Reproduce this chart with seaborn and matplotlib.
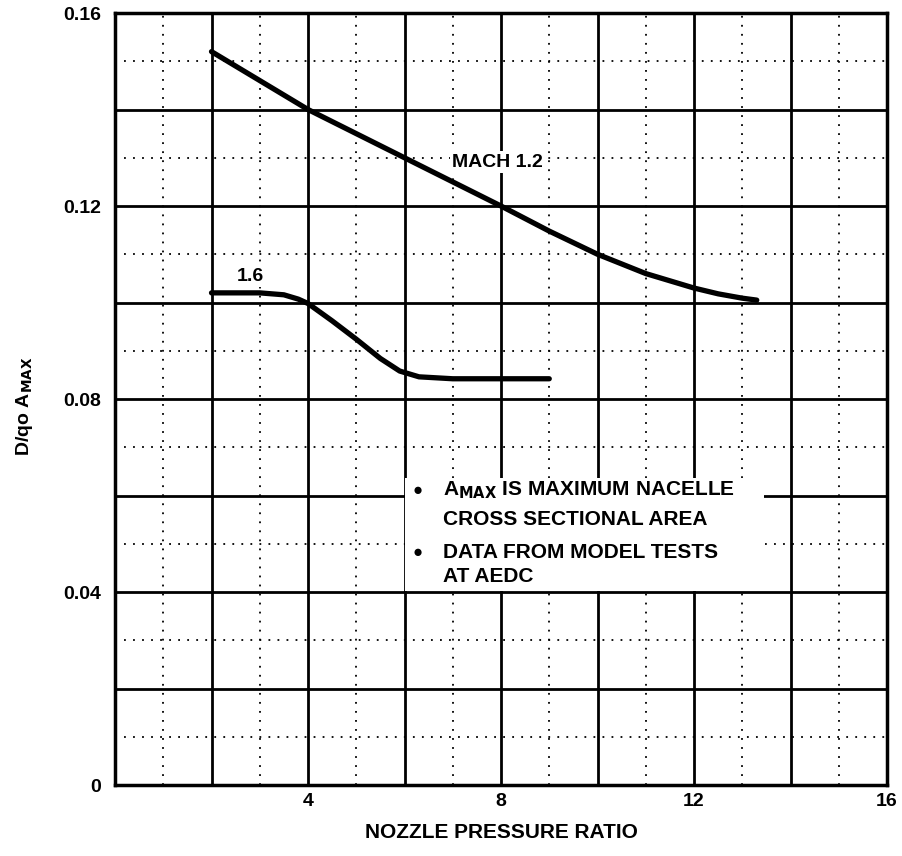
import matplotlib
matplotlib.use("Agg")
import matplotlib.pyplot as plt
import seaborn as sns
import pandas as pd
from matplotlib.patches import Rectangle

# Data
mach12_npr = [2, 4, 6, 8, 9, 10, 11, 12, 12.5, 13, 13.3]
mach12_drag = [0.152, 0.140, 0.130, 0.120, 0.1148, 0.110, 0.1060, 0.1030, 0.1018, 0.1009, 0.1005]
mach16_npr = [2, 3, 3.5, 3.8, 4, 4.5, 5, 5.5, 5.9, 6.3, 7, 8, 9]
mach16_drag = [0.102, 0.102, 0.1016, 0.1007, 0.0998, 0.0962, 0.0924, 0.0884, 0.0858, 0.0846, 0.0842, 0.0842, 0.0842]
x_ticks = [4, 8, 12, 16]
y_ticks = [0, 0.04, 0.08, 0.12, 0.16]
y_tick_labels = ["0", "0.04", "0.08", "0.12", "0.16"]

df = pd.concat([
    pd.DataFrame({"npr": mach12_npr, "drag": mach12_drag, "mach": "1.2"}),
    pd.DataFrame({"npr": mach16_npr, "drag": mach16_drag, "mach": "1.6"}),
])

sns.set_theme(style="white")
plt.rcParams["font.family"] = ["Liberation Sans", "DejaVu Sans"]
plt.rcParams["text.color"] = "black"
plt.rcParams["axes.labelcolor"] = "black"
plt.rcParams["xtick.color"] = "black"
plt.rcParams["ytick.color"] = "black"

fig = plt.figure(figsize=(9.02, 8.56), dpi=100)
ax = fig.add_axes([0.1275, 0.0829, 0.9834 - 0.1275, 0.9848 - 0.0829])

ax.set_xlim(0, 16)
ax.set_ylim(0, 0.16)

# grid: solid major every 2 / 0.02, dotted minor every 1 / 0.01
for xv in range(2, 16, 2):
    ax.axvline(xv, color="black", lw=2.0, zorder=1)
for xv in range(1, 16, 2):
    ax.axvline(xv, color="black", lw=1.3, ls=(0, (1, 4)), zorder=1)
for k in range(1, 8):
    ax.axhline(0.02 * k, color="black", lw=2.0, zorder=1)
for k in range(1, 16, 2):
    ax.axhline(0.01 * k, color="black", lw=1.3, ls=(0, (1, 4)), zorder=1)

# note box
ax.add_patch(Rectangle((6.0, 0.0402), 7.45, 0.0234, facecolor="white",
                       edgecolor="none", zorder=2))

sns.lineplot(data=df, x="npr", y="drag", hue="mach", palette=["black", "black"],
             linewidth=3.8, legend=False, ax=ax, zorder=3, sort=False)

ax.text(7.92, 0.1291, "MACH 1.2", fontsize=14, fontweight="bold", ha="center",
        va="center", zorder=4,
        bbox=dict(facecolor="white", edgecolor="none", pad=1.5))
ax.text(2.8, 0.1053, "1.6", fontsize=14, fontweight="bold", ha="center",
        va="center", zorder=4,
        bbox=dict(facecolor="white", edgecolor="none", pad=1.0))

tk = dict(fontsize=15, fontweight="bold", zorder=4, va="center")
ax.text(6.28, 0.0611, "\u25CF", fontsize=12, ha="center", zorder=4, va="center")
ax.text(6.8, 0.0611, r"A$_{\mathbf{MAX}}$ IS MAXIMUM NACELLE", ha="left", **tk)
ax.text(6.8, 0.0551, "CROSS SECTIONAL AREA", ha="left", **tk)
ax.text(6.28, 0.0481, "\u25CF", fontsize=12, ha="center", zorder=4, va="center")
ax.text(6.8, 0.0481, "DATA FROM MODEL TESTS", ha="left", **tk)
ax.text(6.8, 0.0433, "AT AEDC", ha="left", **tk)

ax.set_xticks(x_ticks)
ax.set_xticklabels([str(v) for v in x_ticks])
ax.set_yticks(y_ticks)
ax.set_yticklabels(y_tick_labels)
ax.tick_params(axis="both", length=0, labelsize=14, labelcolor="black")
ax.tick_params(axis="x", pad=6)
ax.tick_params(axis="y", pad=10)
for lab in ax.get_xticklabels() + ax.get_yticklabels():
    lab.set_fontweight("bold")

ax.set_xlabel("NOZZLE PRESSURE RATIO", fontsize=15, fontweight="bold", labelpad=9)
ax.set_ylabel(r"D/qo A$_{\mathbf{MAX}}$", fontsize=14, fontweight="bold")
ax.yaxis.set_label_coords(-0.103, 0.49)

for sp in ax.spines.values():
    sp.set_visible(True)
    sp.set_color("black")
    sp.set_linewidth(2.5)

fig.savefig("out.png", dpi=100)
